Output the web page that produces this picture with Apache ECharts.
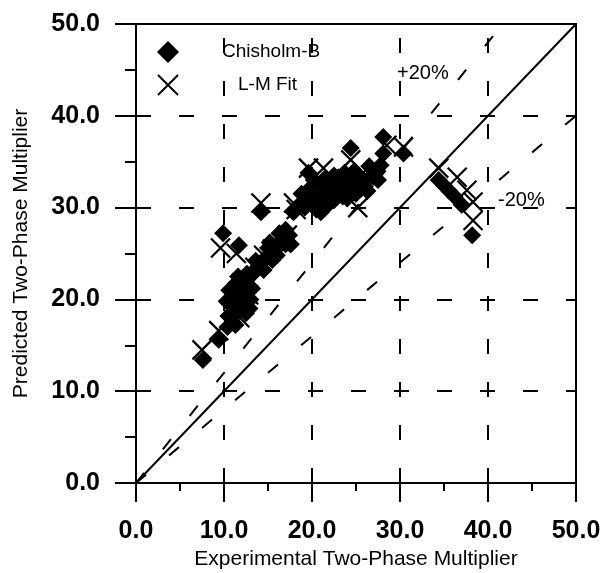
<!DOCTYPE html>
<html>
<head>
<meta charset="utf-8">
<script src="https://cdn.jsdelivr.net/npm/echarts@6/dist/echarts.min.js"></script>
<style>html,body{margin:0;padding:0;background:#fff;}#c{width:606px;height:573px;}</style>
</head>
<body>
<div id="c"></div>
<script>
// ---- data ----
var seriesNames = ['Chisholm-B', 'L-M Fit'];
var axisTicks = [0, 10, 20, 30, 40, 50];
var xTitle = 'Experimental Two-Phase Multiplier';
var yTitle = 'Predicted Two-Phase Multiplier';
var chisholm = [
  [7.6,13.4],[9.4,15.6],[9.9,27.2],[11.7,25.9],
  [10.5,18.2],[10.8,19.5],[11.0,17.5],[11.2,20.5],[11.5,18.8],[11.8,19.8],[12.0,21.0],
  [12.3,20.2],[12.5,18.5],[12.8,21.5],[13.0,20.0],[11.4,21.8],[10.9,20.8],[12.2,22.3],
  [10.3,19.8],[10.6,21.0],[11.6,22.5],[12.6,22.8],[13.2,21.2],[12.9,19.0],[11.3,17.2],[10.4,17.0],
  [13.3,22.8],[13.8,23.5],[14.3,24.0],[14.8,24.6],[15.3,25.0],[15.8,25.4],[16.2,25.8],
  [16.6,26.5],[17.0,26.0],[17.4,27.0],[17.0,27.6],[16.0,24.8],[15.0,25.6],
  [13.6,24.2],[14.5,23.2],[15.5,24.3],[16.3,27.2],[17.6,26.0],[15.2,26.2],
  [14.2,29.5],[17.9,29.5],[19.6,33.8],
  [18.5,30.2],[19.2,30.0],[19.8,30.8],[20.3,31.2],[20.8,30.5],[21.3,31.5],[21.8,31.0],
  [22.3,32.0],[22.8,31.6],[23.3,32.5],[23.8,32.2],[24.3,33.0],[24.8,32.6],[25.3,33.4],
  [25.8,33.0],[26.3,31.8],[26.8,33.5],[27.3,34.0],[27.8,34.6],[20.5,29.8],[21.5,30.0],
  [25.5,32.0],[26.0,32.3],[22.0,32.8],[23.0,33.3],
  [18.8,31.5],[19.5,31.8],[20.0,32.3],[21.0,32.5],[21.0,29.5],[22.0,30.5],[22.5,30.8],
  [23.5,31.2],[24.0,31.0],[24.5,31.8],[25.0,31.5],[23.7,33.8],[24.8,34.0],[26.5,34.5],
  [27.5,33.0],[22.5,33.5],[21.5,33.2],[20.2,33.0],
  [24.4,36.5],[28.1,37.7],[28.1,35.9],[30.4,35.9],
  [34.4,33.0],[35.0,32.4],[35.6,31.8],[36.2,31.2],[37.0,30.3],[38.2,27.0]
];
var lmFit = [
  [7.5,14.5],[9.4,16.6],[9.6,25.6],[11.4,25.0],[10.8,19.0],[11.5,20.0],[12.2,19.5],
  [12.8,20.5],[11.8,18.0],[12.0,21.8],[13.5,23.5],[14.5,24.8],[15.5,25.5],[16.5,26.2],
  [17.2,27.0],[14.2,30.5],[17.9,30.5],[19.6,34.3],[21.3,34.3],[18.2,29.8],[19.5,30.5],
  [20.5,31.0],[21.5,31.5],[22.5,32.0],[23.5,32.8],[25.0,33.0],[26.0,33.5],[27.0,33.8],
  [24.4,35.2],[28.5,36.8],[30.4,36.6],[25.2,30.0],
  [34.4,34.3],[36.5,33.3],[37.6,31.9],[38.3,30.6],[38.3,28.6]
];
var perfectLine = [[0,0],[50,50]];
var plus20Line = [[0,0],[41.667,50]];
var minus20Line = [[0,0],[50,40]];
var bandLabels = ['+20%', '-20%'];

// ---- chart ----
var FONT = 'Liberation Sans, Arial, sans-serif';
var chart = echarts.init(document.getElementById('c'), null, {renderer: 'canvas'});
function fmt(v){ return v.toFixed(1); }
var black = '#000';
var baseAxis = {
  type: 'value', min: 0, max: 50, interval: 10
};
var option = {
  animation: false,
  backgroundColor: '#fff',
  grid: {left: 136, right: 30, top: 24, bottom: 90, show: true, borderColor: black, borderWidth: 2,
         backgroundColor: 'transparent', containLabel: false, outerBoundsMode: 'none'},
  legend: [
    {data: [seriesNames[0]], left: 157, top: 41, padding: 0, itemWidth: 22, itemHeight: 22,
     textStyle: {fontFamily: FONT, fontSize: 19, color: black, padding: [0,0,0,38]}, selectedMode: false},
    {data: [seriesNames[1]], left: 157, top: 74, padding: 0, itemWidth: 20, itemHeight: 20,
     textStyle: {fontFamily: FONT, fontSize: 19, color: black, padding: [0,0,0,55]}, selectedMode: false}
  ],
  xAxis: [
    Object.assign({}, baseAxis, {
      position: 'bottom',
      name: xTitle, nameLocation: 'middle', nameGap: 64,
      nameTextStyle: {fontFamily: FONT, fontSize: 21, color: black},
      axisLine: {show: true, lineStyle: {color: black, width: 2}},
      axisTick: {show: true, inside: false, length: 19, lineStyle: {color: black, width: 2}},
      minorTick: {show: true, splitNumber: 2, length: 8, lineStyle: {color: black, width: 2}},
      axisLabel: {margin: 36, fontFamily: FONT, fontSize: 25, fontWeight: 'bold', color: black, formatter: fmt},
      splitLine: {show: true, lineStyle: {color: black, width: 2, type: [15, 28], dashOffset: 29}}
    }),
    Object.assign({}, baseAxis, {
      position: 'bottom',
      axisLine: {show: false},
      axisTick: {show: true, inside: true, length: 15, lineStyle: {color: black, width: 2}},
      axisLabel: {show: false},
      splitLine: {show: false}
    })
  ],
  yAxis: [
    Object.assign({}, baseAxis, {
      position: 'left',
      name: yTitle, nameLocation: 'middle', nameGap: 104,
      nameTextStyle: {fontFamily: FONT, fontSize: 21, color: black},
      axisLine: {show: true, lineStyle: {color: black, width: 2}},
      axisTick: {show: true, inside: false, length: 21, lineStyle: {color: black, width: 2}},
      minorTick: {show: true, splitNumber: 2, length: 11, lineStyle: {color: black, width: 2}},
      axisLabel: {margin: 36, fontFamily: FONT, fontSize: 25, fontWeight: 'bold', color: black, formatter: fmt},
      splitLine: {show: true, lineStyle: {color: black, width: 2, type: [15, 28], dashOffset: 0}}
    }),
    Object.assign({}, baseAxis, {
      position: 'left',
      axisLine: {show: false},
      axisTick: {show: true, inside: true, length: 11, lineStyle: {color: black, width: 2}},
      axisLabel: {show: false},
      splitLine: {show: false}
    })
  ],
  graphic: [
    {type: 'text', x: 397, y: 73, style: {text: bandLabels[0], font: '20px ' + FONT, fill: black, textVerticalAlign: 'middle'}},
    {type: 'text', x: 498, y: 200, style: {text: bandLabels[1], font: '20px ' + FONT, fill: black, textVerticalAlign: 'middle'}}
  ],
  series: [
    {type: 'line', data: perfectLine, xAxisIndex: 0, yAxisIndex: 0, symbol: 'none', silent: true,
     lineStyle: {color: black, width: 2, type: 'solid'}},
    {type: 'line', data: plus20Line, xAxisIndex: 0, yAxisIndex: 0, symbol: 'none', silent: true,
     lineStyle: {color: black, width: 2, type: [13, 30]}},
    {type: 'line', data: minus20Line, xAxisIndex: 0, yAxisIndex: 0, symbol: 'none', silent: true,
     lineStyle: {color: black, width: 2, type: [13, 30]}},
    {name: seriesNames[0], type: 'scatter', data: chisholm, xAxisIndex: 0, yAxisIndex: 0,
     symbol: 'diamond', symbolSize: 18, itemStyle: {color: black, opacity: 1}},
    {name: seriesNames[1], type: 'scatter', data: lmFit, xAxisIndex: 0, yAxisIndex: 0,
     symbol: 'path://M0,0L10,10M10,0L0,10', symbolSize: 19,
     itemStyle: {color: 'transparent', borderColor: black, borderWidth: 2.2, opacity: 1}}
  ]
};
chart.setOption(option);
</script>
</body>
</html>
